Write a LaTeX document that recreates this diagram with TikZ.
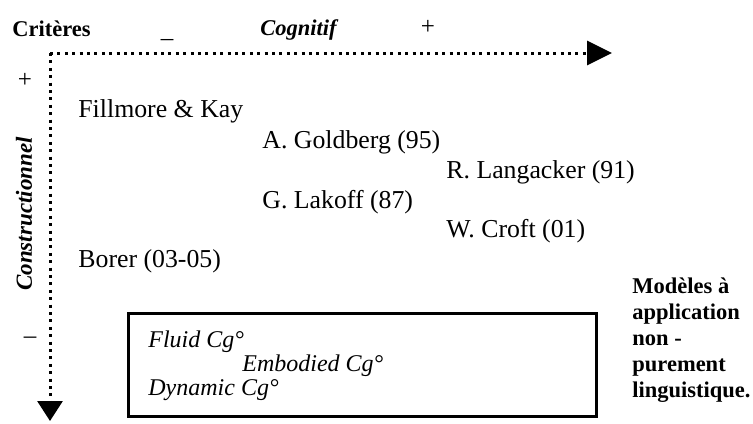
\documentclass[tikz,border=0pt]{standalone}
\usepackage{fontspec}
\setmainfont{Liberation Serif}
\usetikzlibrary{arrows.meta}

\tikzset{
	axis/.style={line width=1.5pt, dash pattern=on 1.5pt off 2.2pt, -{Triangle[length=12.5pt,width=12pt]}},
	auteur/.style={font=\fontsize{12.9}{15}\selectfont, anchor=base west, inner sep=0pt},
	critere/.style={font=\fontsize{11.25}{13}\selectfont\bfseries, anchor=base west, inner sep=0pt},
	modele/.style={font=\fontsize{12}{14}\selectfont\itshape, anchor=base west, inner sep=0pt},
	signe/.style={font=\fontsize{12.5}{15}\selectfont, inner sep=0pt}
}

\begin{document}
\begin{tikzpicture}[x=0.5pt,y=-0.5pt]
	\useasboundingbox (0,0) rectangle (753,423);
	
	% axes
	\coordinate (origine) at (50,53);
	\coordinate (xfin) at (612,53);
	\coordinate (yfin) at (50,421);
	\draw[axis] (origine) -- (xfin);
	\draw[axis, -{Triangle[length=10pt,width=12.5pt]}] (origine) -- (yfin);
	
	\node[critere] (criteres) at (12,36) {Critères};
	\node[signe, anchor=base] (moinsx) at (167,37) {\_};
	\node[critere, font=\fontsize{11.25}{13}\selectfont\bfseries\itshape] (cognitif) at (260,35) {Cognitif};
	\node[signe] (plusx) at (428,27) {+};
	\node[signe] (plusy) at (25,80) {+};
	\node[signe] (moinsy) at (30,340) {–};
	\node[critere, font=\fontsize{11.5}{13}\selectfont\bfseries\itshape, rotate=90, anchor=center] (constructionnel) at (24,214) {Constructionnel};
	
	% auteurs
	\node[auteur] (fillmore) at (78,117) {Fillmore \& Kay};
	\node[auteur] (goldberg) at (262,148) {A. Goldberg (95)};
	\node[auteur] (langacker) at (446,178) {R. Langacker (91)};
	\node[auteur] (lakoff) at (262,208) {G. Lakoff (87)};
	\node[auteur] (croft) at (446,237) {W. Croft (01)};
	\node[auteur] (borer) at (78,267) {Borer (03-05)};
	
	% modeles
	\node[draw, line width=1.5pt, inner sep=0pt, minimum width=234pt, minimum height=51.5pt] (cadre) at (362,364.5) {};
	\node[modele] (fluid) at (148,347) {Fluid Cg°};
	\node[modele] (embodied) at (242,371) {Embodied Cg°};
	\node[modele] (dynamic) at (148,395) {Dynamic Cg°};
	
	\node[critere, align=left, anchor=north west] (note) at (632,277) {Modèles à\\application\\non -\\purement\\linguistique.};
	
\end{tikzpicture}
\end{document}
